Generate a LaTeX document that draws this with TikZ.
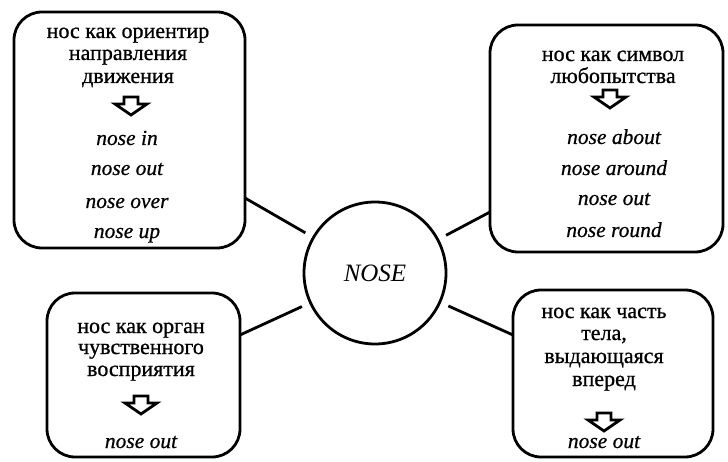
\documentclass[tikz,border=0pt]{standalone}
\usepackage{fontspec}
\setmainfont{Liberation Serif}
\newfontfamily\headfont{Liberation Serif}[FakeBold=0.8]
\newfontfamily\itemfont{Liberation Serif Italic}[FakeBold=0.6]
\begin{document}
\begin{tikzpicture}[x=1pt,y=-1pt,
  box/.style={draw, line width=2.8pt, rounded corners=28pt, anchor=center, inner sep=0pt},
  head/.style={anchor=base, inner sep=0pt, font=\headfont\fontsize{22}{22.5}\selectfont},
  item/.style={anchor=base, inner sep=0pt, font=\itemfont\fontsize{21.5}{24}\selectfont},
  link/.style={line width=2.8pt, shorten <=8pt},
  downarr/.pic={\draw[line width=2.8pt, line join=miter]
     (-7,-9) -- (7,-9) -- (7,-2) -- (16,-2) -- (0,9) -- (-16,-2) -- (-7,-2) -- cycle;}]
\useasboundingbox (0,0) rectangle (728,462);
% boxes
\node[box, minimum width=231pt, minimum height=236pt] (b1) at (129.5,130) {};
\node[box, minimum width=233pt, minimum height=227pt] (b2) at (606.5,138.5) {};
\node[box, minimum width=193pt, minimum height=164pt] (b3) at (143.5,375) {};
\node[box, minimum width=200pt, minimum height=167pt] (b4) at (613,373.5) {};
% centre
\node[draw, circle, line width=2.8pt, minimum size=142pt, inner sep=0pt,
      font=\fontsize{25}{25}\selectfont\itshape] (nose) at (375,273) {NOSE};
% box 1
\node[head] (h11) at (128,38) {нос как ориентир};
\node[head] (h12) at (128,60) {направления};
\node[head] (h13) at (128,83) {движения};
\pic (a1) at (131,106) {downarr};
\node[item] (i11) at (127,145) {nose in};
\node[item] (i12) at (127,175) {nose out};
\node[item] (i13) at (127,208) {nose over};
\node[item] (i14) at (127,238) {nose up};
% box 2
\node[head] (h21) at (613,61) {нос как символ};
\node[head] (h22) at (613,83) {любопытства};
\pic (a2) at (610,99) {downarr};
\node[item] (i21) at (614,144) {nose about};
\node[item] (i22) at (614,175) {nose around};
\node[item] (i23) at (614,205) {nose out};
\node[item] (i24) at (614,237) {nose round};
% box 3
\node[head] (h31) at (141,333) {нос как орган};
\node[head] (h32) at (141,354) {чувственного};
\node[head] (h33) at (141,376) {восприятия};
\pic (a3) at (141,405) {downarr};
\node[item] (i31) at (141,448) {nose out};
% box 4
\node[head] (h41) at (604,318) {нос как часть};
\node[head] (h42) at (604,340) {тела,};
\node[head] (h43) at (604,363) {выдающаяся};
\node[head] (h44) at (604,386) {вперед};
\pic (a4) at (604,422) {downarr};
\node[item] (i41) at (604,448) {nose out};
% connectors
\coordinate (e1) at (245,198);
\coordinate (e2) at (490,212);
\coordinate (e3) at (240,335);
\coordinate (e4) at (513,335);
\draw[link] (nose) -- (e1);
\draw[link] (nose) -- (e2);
\draw[link] (nose) -- (e3);
\draw[link] (nose) -- (e4);
\end{tikzpicture}
\end{document}
